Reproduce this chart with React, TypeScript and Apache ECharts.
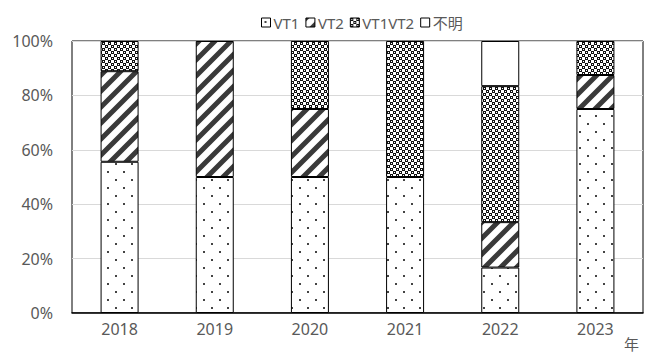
import React, { useEffect, useRef } from "react";
import * as echarts from "echarts";

const years = ["2018", "2019", "2020", "2021", "2022", "2023"];
const vt1 = [55.6, 50, 50, 50, 16.7, 75];
const vt2 = [33.3, 50, 25, null, 16.7, 12.5];
const vt1vt2 = [11.1, null, 25, 50, 50, 12.5];
const unknown = [null, null, null, null, 16.6, null];
const seriesNames = ["VT1", "VT2", "VT1VT2", "不明"];
const yTicks = [0, 20, 40, 60, 80, 100];

function makeTile(size: number, draw: (ctx: CanvasRenderingContext2D) => void) {
  const c = document.createElement("canvas");
  c.width = size;
  c.height = size;
  const ctx = c.getContext("2d")!;
  ctx.fillStyle = "#ffffff";
  ctx.fillRect(0, 0, size, size);
  draw(ctx);
  return c;
}

export default function App() {
  const ref = useRef<HTMLDivElement>(null);
  useEffect(() => {
    if (!ref.current) return;
    const dots = makeTile(16, (ctx) => {
      ctx.fillStyle = "#444";
      ctx.fillRect(3, 3, 2, 2);
      ctx.fillRect(11, 11, 2, 2);
    });
    const stripes = makeTile(16, (ctx) => {
      ctx.strokeStyle = "#3a3a3a";
      ctx.lineWidth = 5;
      ctx.beginPath();
      for (const o of [-16, 0, 16]) {
        ctx.moveTo(o - 4, 20);
        ctx.lineTo(o + 20, -4);
      }
      ctx.stroke();
    });
    const cross = makeTile(6, (ctx) => {
      ctx.fillStyle = "#111";
      ctx.fillRect(0, 0, 3, 3);
      ctx.fillRect(3, 3, 3, 3);
      ctx.fillStyle = "#fff";
      ctx.fillRect(1, 1, 1, 1);
      ctx.fillRect(4, 4, 1, 1);
    });
    const fills: any[] = [
      { image: dots, repeat: "repeat" },
      { image: stripes, repeat: "repeat" },
      { image: cross, repeat: "repeat" },
      "#ffffff",
    ];
    const datas = [vt1, vt2, vt1vt2, unknown];
    const chart = echarts.init(ref.current, null, { renderer: "svg" });
    const font = "'Noto Sans', 'Noto Sans CJK JP', sans-serif";
    chart.setOption({
      animation: false,
      textStyle: { fontFamily: font },
      legend: {
        left: 256,
        top: 10,
        itemWidth: 9,
        itemHeight: 9,
        itemGap: 6,
        icon: "rect",
        textStyle: { fontSize: 15, color: "#595959", fontFamily: font, padding: [0, 0, 0, -2] },
        itemStyle: { borderColor: "#000", borderWidth: 1 },
        data: seriesNames,
      },
      grid: {
        left: 72,
        right: 2,
        top: 41,
        bottom: 48,
        show: true,
        borderColor: "#000",
        borderWidth: 1,
      },
      xAxis: {
        type: "category",
        data: years,
        axisTick: { show: false },
        axisLine: { lineStyle: { color: "#000", width: 1.5 } },
        axisLabel: { color: "#595959", fontSize: 16, margin: 8, fontFamily: font },
      },
      yAxis: {
        type: "value",
        min: yTicks[0],
        max: yTicks[yTicks.length - 1],
        interval: 20,
        axisLabel: { formatter: "{value}%", color: "#595959", fontSize: 16, margin: 19, fontFamily: font },
        splitLine: { lineStyle: { color: "#d9d9d9", width: 1 } },
        axisLine: { show: false },
        axisTick: { show: false },
      },
      graphic: [
        {
          type: "text",
          left: 624,
          top: 336,
          style: { text: "年", fontSize: 15, fill: "#595959", fontFamily: font },
        },
      ],
      series: seriesNames.map((name, i) => ({
        name,
        type: "bar",
        stack: "total",
        barWidth: 38,
        data: datas[i],
        itemStyle: { color: fills[i], borderColor: "#000", borderWidth: 1 },
      })),
    });
    return () => chart.dispose();
  }, []);
  return (
    <div
      ref={ref}
      style={{ position: "fixed", left: 0, top: 0, width: 645, height: 361, background: "#fff" }}
    />
  );
}
